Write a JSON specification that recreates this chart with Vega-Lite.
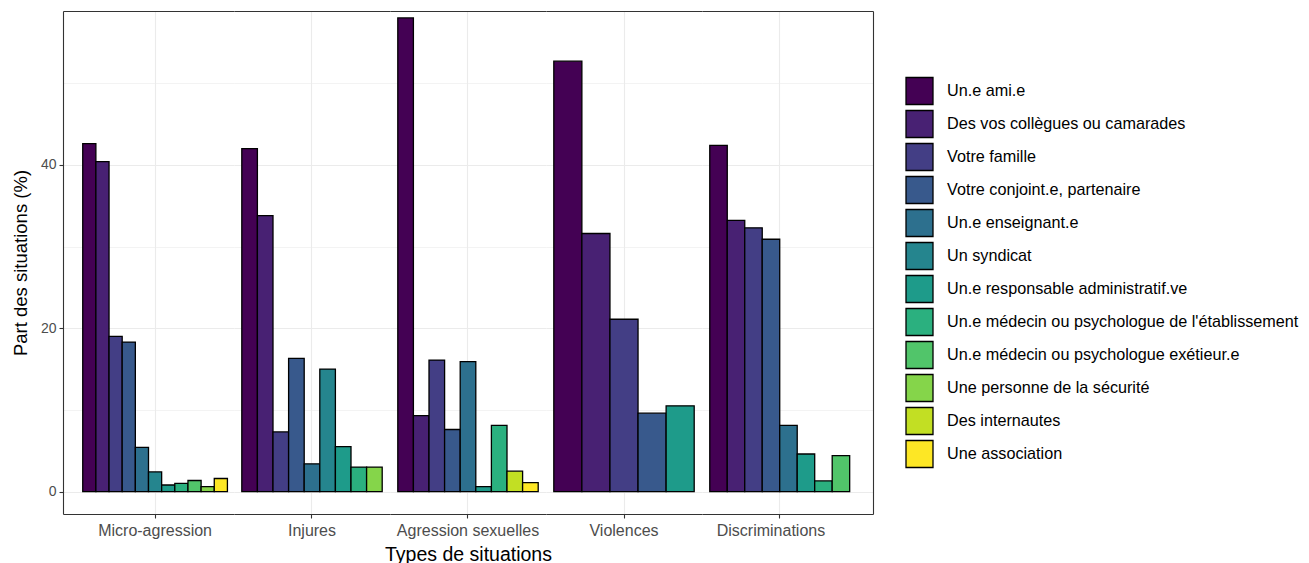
{
  "$schema": "https://vega.github.io/schema/vega-lite/v6.json",
  "background": "white",
  "padding": {"left": 11, "top": 11, "right": 5, "bottom": 5},
  "spacing": 0,
  "bounds": "flush",
  "config": {
    "font": "Liberation Sans",
    "view": {"stroke": null},
    "axis": {"labelFont": "Liberation Sans", "titleFont": "Liberation Sans", "titleFontWeight": "normal", "labelColor": "#4D4D4D", "titleColor": "#000000", "tickColor": "#333333", "domainColor": "#333333", "gridColor": "#EBEBEB", "domainCap": "butt", "gridCap": "butt"},
    "legend": {"labelFont": "Liberation Sans"}
  },
  "data": {
    "values": [
      {"situation": "Micro-agression", "relais": "Un.e ami.e", "part": 42.6},
      {"situation": "Micro-agression", "relais": "Des vos collègues ou camarades", "part": 40.4},
      {"situation": "Micro-agression", "relais": "Votre famille", "part": 19.0},
      {"situation": "Micro-agression", "relais": "Votre conjoint.e, partenaire", "part": 18.3},
      {"situation": "Micro-agression", "relais": "Un.e enseignant.e", "part": 5.4},
      {"situation": "Micro-agression", "relais": "Un syndicat", "part": 2.4},
      {"situation": "Micro-agression", "relais": "Un.e responsable administratif.ve", "part": 0.8},
      {"situation": "Micro-agression", "relais": "Un.e médecin ou psychologue de l'établissement", "part": 1.0},
      {"situation": "Micro-agression", "relais": "Un.e médecin ou psychologue exétieur.e", "part": 1.35},
      {"situation": "Micro-agression", "relais": "Une personne de la sécurité", "part": 0.6},
      {"situation": "Micro-agression", "relais": "Une association", "part": 1.6},
      {"situation": "Injures", "relais": "Un.e ami.e", "part": 42.0},
      {"situation": "Injures", "relais": "Des vos collègues ou camarades", "part": 33.8},
      {"situation": "Injures", "relais": "Votre famille", "part": 7.3},
      {"situation": "Injures", "relais": "Votre conjoint.e, partenaire", "part": 16.3},
      {"situation": "Injures", "relais": "Un.e enseignant.e", "part": 3.4},
      {"situation": "Injures", "relais": "Un syndicat", "part": 15.0},
      {"situation": "Injures", "relais": "Un.e responsable administratif.ve", "part": 5.5},
      {"situation": "Injures", "relais": "Un.e médecin ou psychologue de l'établissement", "part": 3.0},
      {"situation": "Injures", "relais": "Une personne de la sécurité", "part": 3.0},
      {"situation": "Agression sexuelles", "relais": "Un.e ami.e", "part": 58.0},
      {"situation": "Agression sexuelles", "relais": "Des vos collègues ou camarades", "part": 9.3},
      {"situation": "Agression sexuelles", "relais": "Votre famille", "part": 16.1},
      {"situation": "Agression sexuelles", "relais": "Votre conjoint.e, partenaire", "part": 7.6},
      {"situation": "Agression sexuelles", "relais": "Un.e enseignant.e", "part": 15.9},
      {"situation": "Agression sexuelles", "relais": "Un.e responsable administratif.ve", "part": 0.6},
      {"situation": "Agression sexuelles", "relais": "Un.e médecin ou psychologue de l'établissement", "part": 8.1},
      {"situation": "Agression sexuelles", "relais": "Des internautes", "part": 2.5},
      {"situation": "Agression sexuelles", "relais": "Une association", "part": 1.1},
      {"situation": "Violences", "relais": "Un.e ami.e", "part": 52.7},
      {"situation": "Violences", "relais": "Des vos collègues ou camarades", "part": 31.6},
      {"situation": "Violences", "relais": "Votre famille", "part": 21.1},
      {"situation": "Violences", "relais": "Votre conjoint.e, partenaire", "part": 9.6},
      {"situation": "Violences", "relais": "Un.e responsable administratif.ve", "part": 10.5},
      {"situation": "Discriminations", "relais": "Un.e ami.e", "part": 42.4},
      {"situation": "Discriminations", "relais": "Des vos collègues ou camarades", "part": 33.2},
      {"situation": "Discriminations", "relais": "Votre famille", "part": 32.3},
      {"situation": "Discriminations", "relais": "Votre conjoint.e, partenaire", "part": 30.9},
      {"situation": "Discriminations", "relais": "Un.e enseignant.e", "part": 8.1},
      {"situation": "Discriminations", "relais": "Un.e responsable administratif.ve", "part": 4.6},
      {"situation": "Discriminations", "relais": "Un.e médecin ou psychologue de l'établissement", "part": 1.3},
      {"situation": "Discriminations", "relais": "Un.e médecin ou psychologue exétieur.e", "part": 4.4}
    ]
  },
  "resolve": {"scale": {"x": "independent", "y": "independent", "color": "shared"}},
  "hconcat": [
    {
      "width": 171, "height": 503,
      "transform": [{"filter": {"field": "situation", "equal": "Micro-agression"}}],
      "mark": {"type": "bar", "stroke": "black", "strokeWidth": 1.3},
      "encoding": {
        "x": {"field": "relais", "type": "nominal",
          "sort": ["Un.e ami.e", "Des vos collègues ou camarades", "Votre famille", "Votre conjoint.e, partenaire", "Un.e enseignant.e", "Un syndicat", "Un.e responsable administratif.ve", "Un.e médecin ou psychologue de l'établissement", "Un.e médecin ou psychologue exétieur.e", "Une personne de la sécurité", "Des internautes", "Une association"],
          "scale": {"paddingInner": 0, "paddingOuter": 1.2222, "align": 0.75},
          "axis": {"values": ["Un syndicat"], "labelExpr": "'Micro-agression'", "title": null, "grid": true, "gridWidth": 1.1, "labelAngle": 0, "labelFontSize": 16, "labelPadding": 4, "tickSize": 4, "tickWidth": 1.1, "domainWidth": 1.1}},
        "y": {"field": "part", "type": "quantitative",
          "scale": {"domain": [-2.75, 58.85], "nice": false, "zero": false},
          "axis": {"values": [0, 10, 20, 30, 40, 50, 58.85], "labelExpr": "datum.value % 20 === 0 ? datum.label : ''",
            "title": "Part des situations (%)", "titleFontSize": 18.5, "titlePadding": 10, "labelFontSize": 14, "labelPadding": 3,
            "tickSize": 4, "tickWidth": 1.1, "domainWidth": 1.1,
            "tickOpacity": {"condition": {"test": "datum.value % 20 === 0", "value": 1}, "value": 0},
            "gridColor": {"condition": {"test": "datum.value > 58", "value": "#333333"}, "value": "#EBEBEB"},
            "gridWidth": {"condition": {"test": "datum.value % 20 === 0 || datum.value > 58", "value": 1.1}, "value": 0.6}}},
        "color": {"field": "relais", "type": "nominal",
          "scale": {"domain": ["Un.e ami.e", "Des vos collègues ou camarades", "Votre famille", "Votre conjoint.e, partenaire", "Un.e enseignant.e", "Un syndicat", "Un.e responsable administratif.ve", "Un.e médecin ou psychologue de l'établissement", "Un.e médecin ou psychologue exétieur.e", "Une personne de la sécurité", "Des internautes", "Une association"],
            "range": ["#440154", "#482173", "#433E85", "#38598C", "#2D708E", "#25858E", "#1E9B8A", "#2BB07F", "#51C56A", "#85D54A", "#C2DF23", "#FDE725"]},
          "legend": {"title": null, "orient": "none", "legendX": 842, "legendY": 65.5, "symbolType": "square", "symbolSize": 729, "symbolStrokeColor": "black", "symbolStrokeWidth": 1.3, "symbolOpacity": 1, "labelFontSize": 16.2, "labelColor": "#000000", "labelOffset": 13, "rowPadding": 0, "labelLimit": 500}}
      }
    },
    {
      "width": 156, "height": 503,
      "transform": [{"filter": {"field": "situation", "equal": "Injures"}}],
      "mark": {"type": "bar", "stroke": "black", "strokeWidth": 1.3},
      "encoding": {
        "x": {"field": "relais", "type": "nominal",
          "sort": ["Un.e ami.e", "Des vos collègues ou camarades", "Votre famille", "Votre conjoint.e, partenaire", "Un.e enseignant.e", "Un syndicat", "Un.e responsable administratif.ve", "Un.e médecin ou psychologue de l'établissement", "Un.e médecin ou psychologue exétieur.e", "Une personne de la sécurité", "Des internautes", "Une association"],
          "scale": {"paddingInner": 0, "paddingOuter": 0.5, "align": 0.5},
          "axis": {"values": ["Un.e enseignant.e"], "labelExpr": "'Injures'", "title": null, "grid": true, "gridWidth": 1.1, "labelAngle": 0, "labelFontSize": 16, "labelPadding": 4, "tickSize": 4, "tickWidth": 1.1, "domainWidth": 1.1}},
        "y": {"field": "part", "type": "quantitative",
          "scale": {"domain": [-2.75, 58.85], "nice": false, "zero": false},
          "axis": {"values": [0, 10, 20, 30, 40, 50, 58.85], "labels": false, "ticks": false, "domain": false, "title": null,
            "gridColor": {"condition": {"test": "datum.value > 58", "value": "#333333"}, "value": "#EBEBEB"},
            "gridWidth": {"condition": {"test": "datum.value % 20 === 0 || datum.value > 58", "value": 1.1}, "value": 0.6}}},
        "color": {"field": "relais", "type": "nominal"}
      }
    },
    {
      "width": 156, "height": 503,
      "transform": [{"filter": {"field": "situation", "equal": "Agression sexuelles"}}],
      "mark": {"type": "bar", "stroke": "black", "strokeWidth": 1.3},
      "encoding": {
        "x": {"field": "relais", "type": "nominal",
          "sort": ["Un.e ami.e", "Des vos collègues ou camarades", "Votre famille", "Votre conjoint.e, partenaire", "Un.e enseignant.e", "Un syndicat", "Un.e responsable administratif.ve", "Un.e médecin ou psychologue de l'établissement", "Un.e médecin ou psychologue exétieur.e", "Une personne de la sécurité", "Des internautes", "Une association"],
          "scale": {"paddingInner": 0, "paddingOuter": 0.5, "align": 0.5},
          "axis": {"values": ["Un.e enseignant.e"], "labelExpr": "'Agression sexuelles'", "title": "Types de situations", "titleFontSize": 19.5, "titlePadding": 7, "grid": true, "gridWidth": 1.1, "labelAngle": 0, "labelFontSize": 16, "labelPadding": 4, "tickSize": 4, "tickWidth": 1.1, "domainWidth": 1.1}},
        "y": {"field": "part", "type": "quantitative",
          "scale": {"domain": [-2.75, 58.85], "nice": false, "zero": false},
          "axis": {"values": [0, 10, 20, 30, 40, 50, 58.85], "labels": false, "ticks": false, "domain": false, "title": null,
            "gridColor": {"condition": {"test": "datum.value > 58", "value": "#333333"}, "value": "#EBEBEB"},
            "gridWidth": {"condition": {"test": "datum.value % 20 === 0 || datum.value > 58", "value": 1.1}, "value": 0.6}}},
        "color": {"field": "relais", "type": "nominal"}
      }
    },
    {
      "width": 156, "height": 503,
      "transform": [{"filter": {"field": "situation", "equal": "Violences"}}],
      "mark": {"type": "bar", "stroke": "black", "strokeWidth": 1.3},
      "encoding": {
        "x": {"field": "relais", "type": "nominal",
          "sort": ["Un.e ami.e", "Des vos collègues ou camarades", "Votre famille", "Votre conjoint.e, partenaire", "Un.e enseignant.e", "Un syndicat", "Un.e responsable administratif.ve", "Un.e médecin ou psychologue de l'établissement", "Un.e médecin ou psychologue exétieur.e", "Une personne de la sécurité", "Des internautes", "Une association"],
          "scale": {"paddingInner": 0, "paddingOuter": 0.2778, "align": 0.5},
          "axis": {"values": ["Votre famille"], "labelExpr": "'Violences'", "title": null, "grid": true, "gridWidth": 1.1, "labelAngle": 0, "labelFontSize": 16, "labelPadding": 4, "tickSize": 4, "tickWidth": 1.1, "domainWidth": 1.1}},
        "y": {"field": "part", "type": "quantitative",
          "scale": {"domain": [-2.75, 58.85], "nice": false, "zero": false},
          "axis": {"values": [0, 10, 20, 30, 40, 50, 58.85], "labels": false, "ticks": false, "domain": false, "title": null,
            "gridColor": {"condition": {"test": "datum.value > 58", "value": "#333333"}, "value": "#EBEBEB"},
            "gridWidth": {"condition": {"test": "datum.value % 20 === 0 || datum.value > 58", "value": 1.1}, "value": 0.6}}},
        "color": {"field": "relais", "type": "nominal"}
      }
    },
    {
      "width": 171, "height": 503,
      "transform": [{"filter": {"field": "situation", "equal": "Discriminations"}}],
      "mark": {"type": "bar", "stroke": "black", "strokeWidth": 1.3},
      "encoding": {
        "x": {"field": "relais", "type": "nominal",
          "sort": ["Un.e ami.e", "Des vos collègues ou camarades", "Votre famille", "Votre conjoint.e, partenaire", "Un.e enseignant.e", "Un syndicat", "Un.e responsable administratif.ve", "Un.e médecin ou psychologue de l'établissement", "Un.e médecin ou psychologue exétieur.e", "Une personne de la sécurité", "Des internautes", "Une association"],
          "scale": {"paddingInner": 0, "paddingOuter": 0.8889, "align": 0.25},
          "axis": {"values": ["Votre conjoint.e, partenaire"], "bandPosition": 1, "labelExpr": "'Discriminations'", "title": null, "grid": true, "gridWidth": 1.1, "labelAngle": 0, "labelFontSize": 16, "labelPadding": 4, "tickSize": 4, "tickWidth": 1.1, "domainWidth": 1.1}},
        "y": {"field": "part", "type": "quantitative",
          "scale": {"domain": [-2.75, 58.85], "nice": false, "zero": false},
          "axis": {"orient": "right", "values": [0, 10, 20, 30, 40, 50, 58.85], "labels": false, "ticks": false, "domain": true, "domainWidth": 1.1, "title": null,
            "gridColor": {"condition": {"test": "datum.value > 58", "value": "#333333"}, "value": "#EBEBEB"},
            "gridWidth": {"condition": {"test": "datum.value % 20 === 0 || datum.value > 58", "value": 1.1}, "value": 0.6}}},
        "color": {"field": "relais", "type": "nominal"}
      }
    }
  ]
}
